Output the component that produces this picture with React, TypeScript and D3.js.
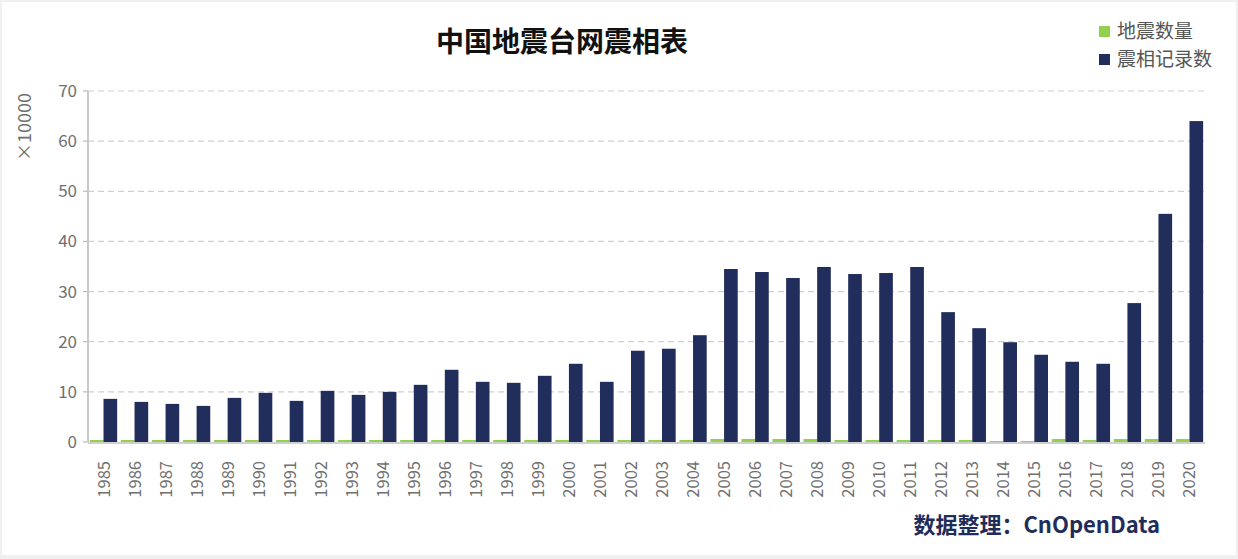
import React from "react";
import * as d3 from "d3";

const years: string[] = [
  "1985","1986","1987","1988","1989","1990","1991","1992","1993","1994","1995","1996",
  "1997","1998","1999","2000","2001","2002","2003","2004","2005","2006","2007","2008",
  "2009","2010","2011","2012","2013","2014","2015","2016","2017","2018","2019","2020",
];
const quakeCount: number[] = [
  0.4,0.4,0.4,0.4,0.4,0.4,0.4,0.4,0.4,0.4,0.4,0.4,
  0.4,0.4,0.4,0.4,0.4,0.4,0.4,0.4,0.6,0.6,0.6,0.6,
  0.4,0.4,0.4,0.4,0.4,0.2,0.2,0.6,0.4,0.6,0.6,0.6,
];
const phaseRecords: number[] = [
  8.6,8.0,7.6,7.2,8.8,9.8,8.2,10.2,9.4,10.0,11.4,14.4,
  12.0,11.8,13.2,15.6,12.0,18.2,18.6,21.3,34.5,33.9,32.7,34.9,
  33.5,33.7,34.9,25.9,22.7,19.9,17.4,16.0,15.6,27.7,45.5,64.0,
];
const yTicks: number[] = [0, 10, 20, 30, 40, 50, 60, 70];
const seriesNames: string[] = ["地震数量", "震相记录数"];
const seriesColors: string[] = ["#92d050", "#212d5b"];

const W = 1238;
const H = 559;
const FONT = "'Noto Sans CJK SC', 'Noto Sans', sans-serif";

export default function App() {
  const left = 88, right = 1205, top = 91, bottom = 442;
  const x = d3.scaleBand<string>().domain(years).range([left, right]).paddingInner(0.12).paddingOuter(0.06);
  const inner = d3.scaleBand<string>().domain(["a", "b"]).range([0, x.bandwidth()]);
  const y = d3.scaleLinear().domain([0, 70]).range([bottom, top]);
  const band = d3.scaleBand<string>().domain(years).range([left, right]);

  return (
    <svg width={W} height={H} style={{ position: "absolute", left: 0, top: 0, display: "block" }}>
      <rect x={0} y={0} width={W} height={H} fill="#f0f0f0" />
      <rect x={2} y={2} width={1234} height={553} fill="#ffffff" />
      <text x={562} y={52} textAnchor="middle" fontFamily={FONT} fontSize={28} fontWeight="bold" fill="#111">
        中国地震台网震相表
      </text>
      {/* legend */}
      {seriesNames.map((n, i) => (
        <g key={n}>
          <rect x={1099} y={26 + i * 28} width={11} height={11} fill={seriesColors[i]} />
          <text x={1117} y={38 + i * 28} fontFamily={FONT} fontSize={19} fill="#555">{n}</text>
        </g>
      ))}
      {/* grid */}
      {yTicks.map((t) => (
        <g key={t}>
          {t > 0 && (
            <line x1={left} x2={right} y1={y(t)} y2={y(t)} stroke="#cfcfcf" strokeWidth={1.2} strokeDasharray="6,4" />
          )}
          <line x1={83} x2={left} y1={y(t)} y2={y(t)} stroke="#bbb" strokeWidth={1.2} />
          <text x={77} y={y(t) + 6} textAnchor="end" fontFamily={FONT} fontSize={17} fill="#707070">{t}</text>
        </g>
      ))}
      <line x1={left} x2={left} y1={top} y2={bottom} stroke="#c8c8c8" strokeWidth={2} />
      <text transform={`translate(31,127) rotate(-90)`} textAnchor="middle" fontFamily={FONT} fontSize={18} fill="#707070">×10000</text>
      {/* bars */}
      {years.map((yr, i) => (
        <g key={yr} transform={`translate(${x(yr)},0)`}>
          <rect x={inner("a")} y={y(quakeCount[i])} width={inner.bandwidth()} height={bottom - y(quakeCount[i])} fill={seriesColors[0]} />
          <rect x={inner("b")} y={y(phaseRecords[i])} width={inner.bandwidth()} height={bottom - y(phaseRecords[i])} fill={seriesColors[1]} />
        </g>
      ))}
      <line x1={left} x2={right} y1={bottom + 1} y2={bottom + 1} stroke="#d0d0d0" strokeWidth={2} />
      {/* x labels */}
      {years.map((yr) => {
        const cx = (band(yr) as number) + band.bandwidth() / 2;
        return (
          <text key={yr} transform={`translate(${cx + 6},${461}) rotate(-90)`} textAnchor="end" fontFamily={FONT} fontSize={16.5} fill="#707070">
            {yr}
          </text>
        );
      })}
      <text x={1160} y={533} textAnchor="end" fontFamily={FONT} fontSize={22} fontWeight="bold" fill="#1f2d5a">
        数据整理：CnOpenData
      </text>
    </svg>
  );
}
